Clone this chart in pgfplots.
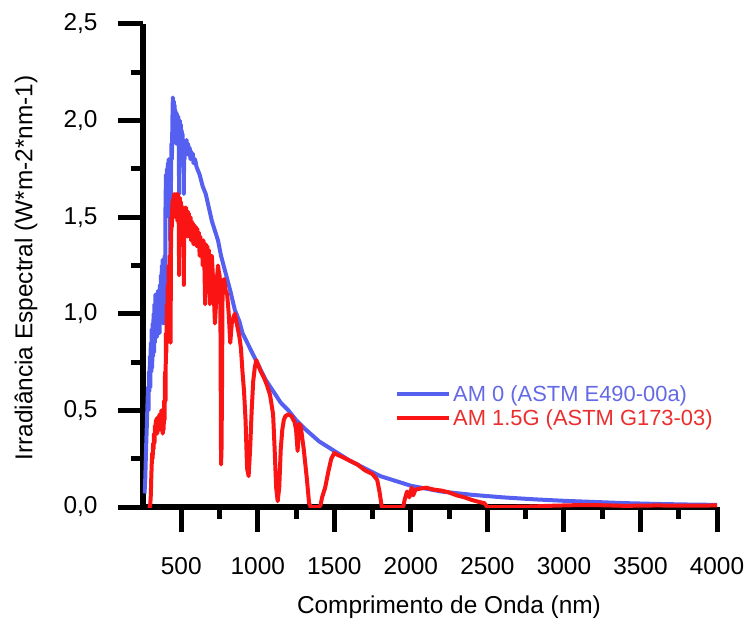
\documentclass[border=0pt]{standalone}
\usepackage{fontspec}
\setmainfont{Liberation Sans}
\usepackage{pgfplots}
\usepackage{pgfplotstable}
\pgfplotsset{compat=1.18}

\definecolor{amzero}{RGB}{85,95,240}
\definecolor{amzerotext}{RGB}{100,105,230}
\definecolor{amonefive}{RGB}{250,20,20}
\definecolor{amonefivetext}{RGB}{235,45,45}

% AM 0 extraterrestrial spectrum (ASTM E490-00a), nm vs W m^-2 nm^-1
\pgfplotstableread{
lambda irr
260 0.07
265 0.15
270 0.30
275 0.42
280 0.55
283 0.62
286 0.50
289 0.70
292 0.60
295 0.78
298 0.62
301 0.85
304 0.70
307 0.92
310 0.72
313 0.95
316 0.78
319 1.00
322 0.80
325 1.05
328 0.85
331 1.10
334 0.90
337 1.05
340 0.88
343 1.10
346 0.92
349 1.12
352 0.95
355 1.10
358 0.90
361 1.15
364 1.00
367 1.20
370 1.05
373 1.25
376 1.08
379 1.28
382 0.95
385 1.25
388 1.10
391 1.30
394 0.95
397 1.55
400 1.72
403 1.50
406 1.75
409 1.60
412 1.78
415 1.62
418 1.80
421 1.65
424 1.78
427 1.50
430 1.15
433 1.70
436 1.88
439 1.80
442 2.00
445 2.12
448 1.95
451 2.10
454 1.90
457 2.08
460 1.95
463 2.05
466 1.88
469 2.04
472 1.92
475 2.03
478 1.90
481 2.02
484 1.85
486 1.62
488 1.95
491 2.00
494 1.85
497 1.98
500 1.90
503 1.95
506 1.82
509 1.93
512 1.80
515 1.90
517 1.62
519 1.88
522 1.80
525 1.88
530 1.84
535 1.90
540 1.83
545 1.88
550 1.82
555 1.86
560 1.80
565 1.84
570 1.80
575 1.83
580 1.78
590 1.80
600 1.76
620 1.72
640 1.66
660 1.62
680 1.55
700 1.48
720 1.43
740 1.38
760 1.30
780 1.24
800 1.18
820 1.12
850 1.02
880 0.96
900 0.90
950 0.82
1000 0.74
1050 0.66
1100 0.60
1150 0.54
1200 0.50
1250 0.45
1300 0.41
1400 0.34
1500 0.29
1600 0.24
1700 0.20
1800 0.16
1900 0.135
2000 0.11
2200 0.08
2400 0.063
2600 0.05
2800 0.04
3000 0.032
3200 0.026
3400 0.02
3600 0.016
3800 0.013
4000 0.011
}\amzero

% AM 1.5G terrestrial spectrum (ASTM G173-03)
\pgfplotstableread{
lambda irr
280 0.0
295 0.0
298 0.02
301 0.06
304 0.15
307 0.22
310 0.28
313 0.25
316 0.33
319 0.30
322 0.38
325 0.33
328 0.42
331 0.38
334 0.45
337 0.40
340 0.46
343 0.38
346 0.45
349 0.40
352 0.47
355 0.42
358 0.48
361 0.40
364 0.46
367 0.42
370 0.50
373 0.40
376 0.47
379 0.38
382 0.48
385 0.40
388 0.55
391 0.45
394 0.70
397 0.55
400 0.90
403 0.80
406 1.05
409 0.90
412 1.15
415 1.00
418 1.25
421 1.10
424 1.30
427 1.05
430 0.85
433 1.35
436 1.50
439 1.45
442 1.58
445 1.52
448 1.60
451 1.50
454 1.62
457 1.52
460 1.60
463 1.50
466 1.62
469 1.55
472 1.60
475 1.48
478 1.62
481 1.55
484 1.45
486 1.20
488 1.55
491 1.60
494 1.48
497 1.58
500 1.50
503 1.56
506 1.45
509 1.55
512 1.42
515 1.52
517 1.15
519 1.50
522 1.42
525 1.55
528 1.45
531 1.55
534 1.43
537 1.52
540 1.40
543 1.53
546 1.45
549 1.52
552 1.40
555 1.50
558 1.42
561 1.50
564 1.38
567 1.48
570 1.42
575 1.47
580 1.36
585 1.46
590 1.40
595 1.45
600 1.35
605 1.44
610 1.38
615 1.42
620 1.30
625 1.40
630 1.32
635 1.38
640 1.25
645 1.38
650 1.30
656 1.05
660 1.36
665 1.30
670 1.35
675 1.28
680 1.33
687 1.05
692 1.30
697 1.25
700 1.30
705 1.22
710 1.15
715 1.05
720 0.95
725 1.02
730 1.10
735 1.20
740 1.25
745 1.22
750 1.20
755 1.15
760 0.22
763 0.30
766 0.60
770 1.15
780 1.18
790 1.12
800 1.10
810 1.00
820 0.85
830 0.95
840 0.98
850 1.00
860 0.96
870 0.92
880 0.88
890 0.82
900 0.70
910 0.60
920 0.45
930 0.20
940 0.16
950 0.30
960 0.50
970 0.65
980 0.72
990 0.76
1000 0.74
1020 0.70
1040 0.67
1060 0.63
1080 0.58
1100 0.48
1110 0.30
1120 0.10
1130 0.03
1140 0.10
1150 0.30
1160 0.40
1170 0.45
1180 0.47
1200 0.48
1220 0.47
1240 0.44
1250 0.40
1260 0.29
1270 0.43
1280 0.42
1290 0.36
1300 0.30
1320 0.15
1335 0.02
1345 0.0
1400 0.0
1410 0.01
1420 0.05
1440 0.10
1460 0.18
1480 0.25
1500 0.28
1520 0.27
1550 0.26
1600 0.24
1650 0.22
1700 0.19
1750 0.17
1780 0.14
1795 0.08
1810 0.0
1950 0.0
1960 0.04
1975 0.08
1990 0.05
2005 0.10
2015 0.06
2030 0.09
2060 0.095
2100 0.10
2150 0.09
2200 0.085
2250 0.075
2300 0.06
2350 0.05
2400 0.036
2450 0.025
2480 0.02
2500 0.0
2600 0.0
2800 0.003
2900 0.006
3000 0.008
3100 0.01
3200 0.01
3400 0.006
3600 0.008
3800 0.007
4000 0.008
}\amonefive

\begin{document}
\begin{tikzpicture}
\begin{axis}[
  scale only axis,
  width=574bp, height=483bp,
  xmin=250, xmax=4000,
  ymin=0, ymax=2.5,
  axis x line*=bottom,
  axis y line*=left,
  axis line style={line width=5.5bp, black},
  tick style={line width=5bp, black},
  tick align=outside,
  major tick length=25bp,
  minor tick length=12bp,
  xtick={500,1000,...,4000},
  ytick={0,0.5,...,2.5},
  minor x tick num=1,
  minor y tick num=1,
  tick label style={font=\fontsize{24.5}{28}\selectfont},
  xticklabel style={yshift=-22bp,
    /pgf/number format/1000 sep={},
    /pgf/number format/assume math mode=true},
  yticklabel style={xshift=-17bp,
    /pgf/number format/fixed,
    /pgf/number format/fixed zerofill,
    /pgf/number format/precision=1,
    /pgf/number format/use comma,
    /pgf/number format/assume math mode=true},
  xlabel={Comprimento de Onda (nm)},
  ylabel={Irradiância Espectral (W*m-2*nm-1)},
  label style={font=\fontsize{24.5}{28}\selectfont},
  xlabel style={at={(axis description cs:0.533,-0.207)}, anchor=center},
  ylabel style={at={(axis description cs:-0.204,0.495)}, anchor=center},
  legend cell align=left,
  legend style={draw=none, fill=none, at={(axis description cs:0.439,0.209)}, anchor=west,
    font=\fontsize{22}{26}\selectfont, row sep=3bp, inner sep=0pt},
  legend image code/.code={\draw[#1, line width=4bp] (0bp,0bp) -- (52bp,0bp);},
]
\addplot[amzero, line width=4bp, line join=round] table[x=lambda, y=irr] {\amzero};
\addlegendentry{\textcolor{amzerotext}{AM 0 (ASTM E490-00a)}}
\addplot[amonefive, line width=4bp, line join=round] table[x=lambda, y=irr] {\amonefive};
\addlegendentry{\textcolor{amonefivetext}{AM 1.5G (ASTM G173-03)}}
\end{axis}
\pgfresetboundingbox
\useasboundingbox (-143bp,-120bp) rectangle (604bp,507bp);
\end{tikzpicture}
\end{document}
